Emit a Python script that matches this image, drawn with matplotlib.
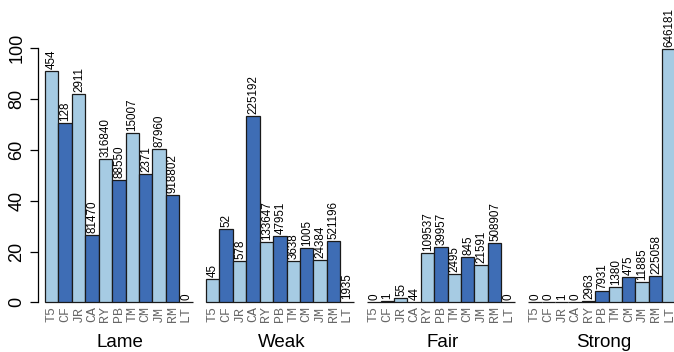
import numpy as np
import matplotlib
matplotlib.use("Agg")
import matplotlib.pyplot as plt

# Counts per site (columns) for each condition class (groups)
sites = ['T5', 'CF', 'JR', 'CA', 'RY', 'PB', 'TM', 'CM', 'JM', 'RM', 'LT']
groups = ['Lame', 'Weak', 'Fair', 'Strong']
lame = [454, 128, 2911, 81470, 316840, 88550, 15007, 2371, 87960, 918802, 0]
weak = [45, 52, 578, 225192, 133647, 47951, 3638, 1005, 24384, 521196, 1935]
fair = [0, 1, 55, 44, 109537, 39957, 2495, 845, 21591, 508907, 0]
strong = [0, 0, 1, 0, 2963, 7931, 1380, 475, 11885, 225058, 646181]

counts = np.array([lame, weak, fair, strong], dtype=float)
# percentage of each site's total falling in each class
pct = 100.0 * counts / counts.sum(axis=0, keepdims=True)

light = '#a6cbe3'
dark = '#3e6db5'
colors = [light if i % 2 == 0 else dark for i in range(len(sites))]

W, H, DPI = 674, 352, 100
fig = plt.figure(figsize=(W / DPI, H / DPI), dpi=DPI)

# axes placement in pixels
x_axis_px = 37.7
y0_px, y100_px = 302.3, 48.3
ax = fig.add_axes([x_axis_px / W, (H - y0_px) / H, 1 - x_axis_px / W, (y0_px - y100_px) / H])

# bar unit geometry (R barplot style: groups of 11 with one-bar gaps)
p0, u = 31.6, 13.42
ax.set_xlim((x_axis_px - p0) / u, (W - p0) / u)
ax.set_ylim(0, 100)

n = len(sites)
for g, name in enumerate(groups):
    lefts = 1 + g * (n + 1) + np.arange(n)
    centers = lefts + 0.5
    ax.bar(centers, pct[g], width=1.0, color=colors, edgecolor='#1a1a1a',
           linewidth=0.9, clip_on=False)
    for c, h, v, site in zip(centers, pct[g], counts[g], sites):
        ax.annotate(f"{int(v)}", xy=(c, h), xytext=(0.3, 1.5),
                    textcoords='offset points', rotation=90,
                    ha='center', va='bottom', fontsize=8.4,
                    family='Liberation Sans', annotation_clip=False)
        ax.annotate(site, xy=(c, 0), xytext=(0, -2.7),
                    textcoords='offset points', rotation=90,
                    ha='center', va='top', fontsize=9.5,
                    family='Liberation Mono', color='#666666',
                    annotation_clip=False)
    ax.annotate(name, xy=(centers.mean(), 0), xytext=(1, -32),
                textcoords='offset points', ha='center', va='baseline',
                fontsize=13.5, family='Liberation Sans', annotation_clip=False)

for side in ['top', 'right', 'bottom']:
    ax.spines[side].set_visible(False)
ax.spines['left'].set_linewidth(0.9)
ax.spines['left'].set_bounds(0, 100)
ax.set_xticks([])
ax.set_yticks([0, 20, 40, 60, 80, 100])
ax.tick_params(axis='y', length=5.8, width=0.9, pad=3, labelsize=13,
               labelrotation=90)
for lbl in ax.get_yticklabels():
    lbl.set_family('Liberation Sans')
    lbl.set_va('center')
ax.patch.set_alpha(0)

fig.savefig('out.png', dpi=DPI)
